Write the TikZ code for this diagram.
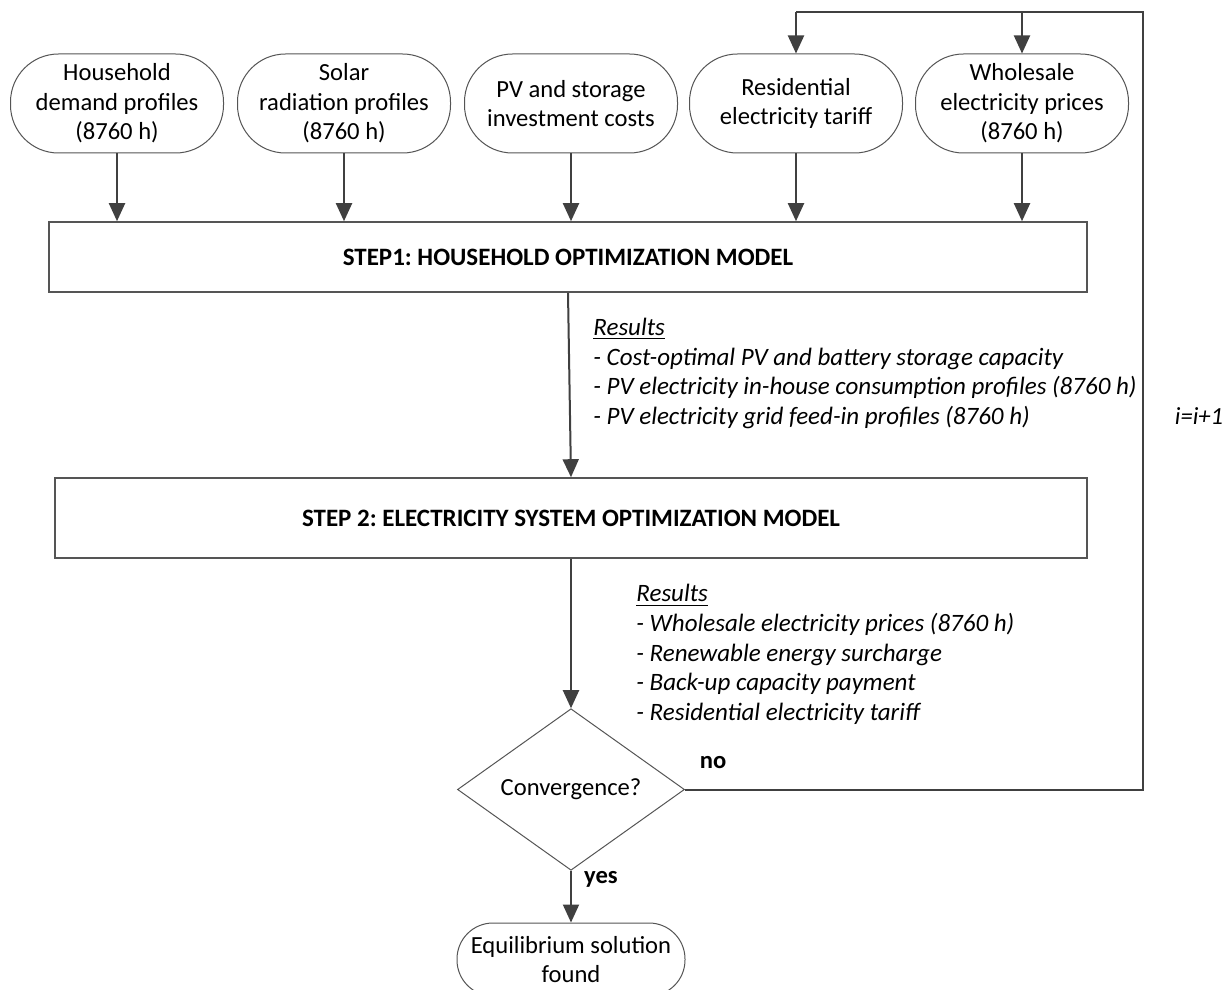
\documentclass[tikz,border=0pt]{standalone}
\usepackage{fontspec}
\setmainfont{Carlito}
\usetikzlibrary{arrows.meta,shapes.geometric}
\definecolor{linegray}{HTML}{404040}
\definecolor{boxgray}{HTML}{555555}
\tikzset{
  inbox/.style={draw=boxgray, line width=0.5pt, rectangle, rounded corners=24pt,
    minimum width=106.5pt, minimum height=49.5pt, align=center, inner sep=0pt,
    font=\fontsize{12.3}{14.8}\selectfont},
  stepbox/.style={draw=boxgray, line width=0.8pt, rectangle, inner sep=0pt,
    font=\fontsize{12.5}{15}\selectfont\bfseries},
  decbox/.style={draw=boxgray, line width=0.5pt, diamond, inner sep=0pt,
    minimum width=113.5pt, minimum height=63.5pt,
    font=\fontsize{12.3}{14.8}\selectfont},
  restext/.style={anchor=west, align=left, inner sep=0pt,
    font=\fontsize{12.5}{14.8}\selectfont\itshape},
  lbl/.style={inner sep=0pt, font=\fontsize{12.3}{14.8}\selectfont\bfseries},
  flow/.style={draw=linegray, line width=1pt, -{Triangle[width=8pt,length=9pt]}},
  plain/.style={draw=linegray, line width=1pt}
}
\begin{document}
\frenchspacing
\begin{tikzpicture}[x=0.5pt,y=-0.5pt]
\clip (0,0) rectangle (1227,990);
\fill[white] (0,0) rectangle (1227,990);
% input nodes
\node[inbox] (in1) at (117,103.5) {Household\\demand profiles\\(8760 h)};
\node[inbox] (in2) at (344,103.5) {Solar\\radiation profiles\\(8760 h)};
\node[inbox] (in3) at (571,103.5) {PV and storage\\investment costs};
\node[inbox] (in4) at (796,103.5) {Residential\\electricity tariff};
\node[inbox] (in5) at (1022,103.5) {Wholesale\\electricity prices\\(8760 h)};
% step boxes
\node[stepbox, minimum width=519pt, minimum height=35pt] (s1) at (568,257) {STEP1: HOUSEHOLD OPTIMIZATION MODEL};
\node[stepbox, minimum width=516pt, minimum height=40pt] (s2) at (571,518) {STEP 2: ELECTRICITY SYSTEM OPTIMIZATION MODEL};
% decision
\node[decbox] (dec) at (571,789.5) {Convergence?};
% final
\node[inbox, minimum width=114pt, minimum height=36.5pt, rounded corners=18pt] (fin) at (571,959.5) {Equilibrium solution\\found};
% arrows from inputs
\foreach \i in {1,...,5} {
  \draw[flow] (in\i.south) -- (in\i.south |- s1.north);
}
\draw[flow] (s1.south) -- (s2.north);
\draw[flow] (s2.south) -- (dec.north);
\draw[flow] (dec.south) -- (fin.north);
% feedback loop
\coordinate (cr) at (1143,789.5);
\coordinate (ctr) at (1143,12);
\coordinate (ctl) at (796,12);
\coordinate (ctm) at (1022,12);
\draw[plain] (dec.east) -- (cr) -- (ctr) -- (ctl);
\draw[flow] (ctl) -- (in4.north);
\draw[flow] (ctm) -- (in5.north);
% texts
\node[restext] (r1) at (593,373.5) {\underline{Results}\\- Cost-optimal PV and battery storage capacity\\- PV electricity in-house consumption profiles (8760 h)\\- PV electricity grid feed-in profiles (8760 h)};
\node[restext] (r2) at (636,654.5) {\underline{Results}\\- Wholesale electricity prices (8760 h)\\- Renewable energy surcharge\\- Back-up capacity payment\\- Residential electricity tariff};
\node[lbl] (no) at (713,763) {no};
\node[lbl] (yes) at (601,879) {yes};
\node[inner sep=0pt, font=\fontsize{12.3}{14.8}\selectfont\itshape] (iter) at (1199,416) {i=i+1};
\end{tikzpicture}
\end{document}
